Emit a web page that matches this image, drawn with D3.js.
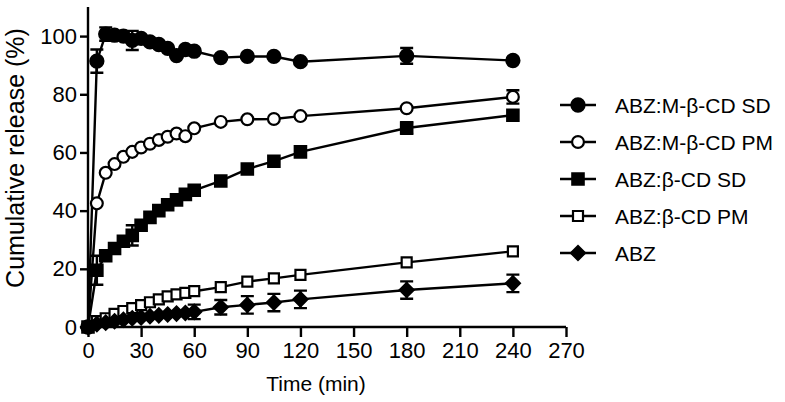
<!DOCTYPE html>
<html><head><meta charset="utf-8">
<script src="https://cdn.jsdelivr.net/npm/d3@7"></script>
<style>body{margin:0;background:#fff}svg{display:block}text{font-family:Arial,"Liberation Sans",sans-serif;fill:#000}</style>
</head><body><svg id="c" width="785" height="402"></svg>
<script>
const times = [0,5,10,15,20,25,30,35,40,45,50,55,60,75,90,105,120,180,240];
const seriesNames = ["ABZ:M-β-CD SD","ABZ:M-β-CD PM","ABZ:β-CD SD","ABZ:β-CD PM","ABZ"];
const mbcdSD  = [0,91.4,100.7,100.3,100,98.5,99.2,98,97.1,95.8,93.3,95.4,94.8,92.6,93,93,91.2,93.2,91.6];
const mbcdSDe = [0,4,2.3,0,0,3.3,0,0,0,0,0,0,0,0,0,0,0,2.7,0];
const mbcdPM  = [0,42.5,53,56,58.5,60.2,61.7,63,64.3,65.4,66.5,65.6,68.3,70.5,71.4,71.5,72.5,75.2,79.1];
const mbcdPMe = [0,0,0,0,0,0,0,0,0,0,0,0,0,0,0,0,0,0,2.3];
const bcdSD   = [0,19.5,24.5,27,29.5,31.5,35,37.7,40,42,43.7,45.6,47,50.2,54.3,57,60.2,68.4,72.8];
const bcdSDe  = [0,5,0,0,0,3.5,0,0,0,0,0,0,0,0,0,0,0,2,0];
const bcdPM   = [0,2,3,4.5,5.5,6.5,7.5,8.5,9.5,10.5,11.2,11.7,12.3,13.7,15.6,16.7,17.9,22.2,26];
const bcdPMe  = [0,0,0,0,0,0,0,0,0,0,0,0,0,0,0,0,0,0,0];
const abz     = [0,1,1.5,2,2.5,3,3.3,3.7,4,4.3,4.6,4.8,5.2,6.8,7.6,8.4,9.5,12.7,15];
const abzE    = [0,0,0,0,0,0,0,0,0,0,0,0,2.5,2.5,3,3,3,3,3];
const xTicks = [0,30,60,90,120,150,180,210,240,270];
const yTicks = [0,20,40,60,80,100];
const xLabel = "Time (min)";
const yLabel = "Cumulative release (%)";

const svg = d3.select("#c");
const x = d3.scaleLinear().domain([0,270]).range([88,566]);
const y = d3.scaleLinear().domain([0,110]).range([327,7]);

const diamond = {draw(ctx,size){const r=Math.sqrt(size)/2*1.25;ctx.moveTo(0,-r);ctx.lineTo(r,0);ctx.lineTo(0,r);ctx.lineTo(-r,0);ctx.closePath();}};
const styles = [
  {type:d3.symbolCircle,size:135,fill:"#000"},
  {type:d3.symbolCircle,size:110,fill:"#fff"},
  {type:d3.symbolSquare,size:130,fill:"#000"},
  {type:d3.symbolSquare,size:100,fill:"#fff"},
  {type:diamond,size:125,fill:"#000"}
];
const vals=[mbcdSD,mbcdPM,bcdSD,bcdPM,abz];
const errs=[mbcdSDe,mbcdPMe,bcdSDe,bcdPMe,abzE];

// axes
const gx = svg.append("g").attr("transform","translate(0,327)")
  .call(d3.axisBottom(x).tickValues(xTicks).tickSize(10).tickPadding(5).tickSizeOuter(0));
const gy = svg.append("g").attr("transform","translate(88,0)")
  .call(d3.axisLeft(y).tickValues(yTicks).tickSize(8).tickPadding(3).tickSizeOuter(0));
[gx,gy].forEach(g=>{g.select(".domain").attr("stroke","#000").attr("stroke-width",2.4);
  g.selectAll(".tick line").attr("stroke","#000").attr("stroke-width",2.4);
  g.selectAll(".tick text").attr("font-size",22).attr("font-family","Arial, Liberation Sans");});
gy.select(".domain").attr("d","M0,"+y(110)+"V"+y(0));
gx.select(".domain").attr("d","M"+x(0)+",0H"+x(270));

svg.append("text").attr("x",316).attr("y",391).attr("text-anchor","middle").attr("font-size",21).text(xLabel);
svg.append("text").attr("transform","translate(24,158) rotate(-90)").attr("text-anchor","middle").attr("font-size",25).text(yLabel);

const line = d3.line().x((d,i)=>x(times[i])).y(d=>y(d));
const plot = svg.append("g");
vals.forEach((v,k)=>{
  plot.append("path").attr("d",line(v)).attr("fill","none").attr("stroke","#000").attr("stroke-width",2.4);
});
vals.forEach((v,k)=>{
  const e=errs[k];
  v.forEach((d,i)=>{ if(!e[i]) return;
    const cx=x(times[i]), y1=y(d+e[i]), y2=y(d-e[i]);
    plot.append("path").attr("d",`M${cx},${y1}V${y2}M${cx-6.5},${y1}H${cx+6.5}M${cx-6.5},${y2}H${cx+6.5}`)
      .attr("stroke","#000").attr("stroke-width",2.4).attr("fill","none");
  });
});
vals.forEach((v,k)=>{
  const s=styles[k], sym=d3.symbol().type(s.type).size(s.size);
  plot.selectAll(null).data(v).enter().append("path").attr("d",sym)
    .attr("transform",(d,i)=>`translate(${x(times[i])},${y(d)})`)
    .attr("fill",s.fill).attr("stroke","#000").attr("stroke-width",2.2);
});

// legend
const leg = svg.append("g");
seriesNames.forEach((n,k)=>{
  const ly = 105 + k*37;
  leg.append("line").attr("x1",560).attr("x2",596).attr("y1",ly).attr("y2",ly).attr("stroke","#000").attr("stroke-width",2.4);
  const s=styles[k];
  leg.append("path").attr("d",d3.symbol().type(s.type).size(s.size)).attr("transform",`translate(578,${ly})`)
    .attr("fill",s.fill).attr("stroke","#000").attr("stroke-width",2.2);
  leg.append("text").attr("x",615).attr("y",ly+7.5).attr("font-size",21).text(n);
});
</script></body></html>
